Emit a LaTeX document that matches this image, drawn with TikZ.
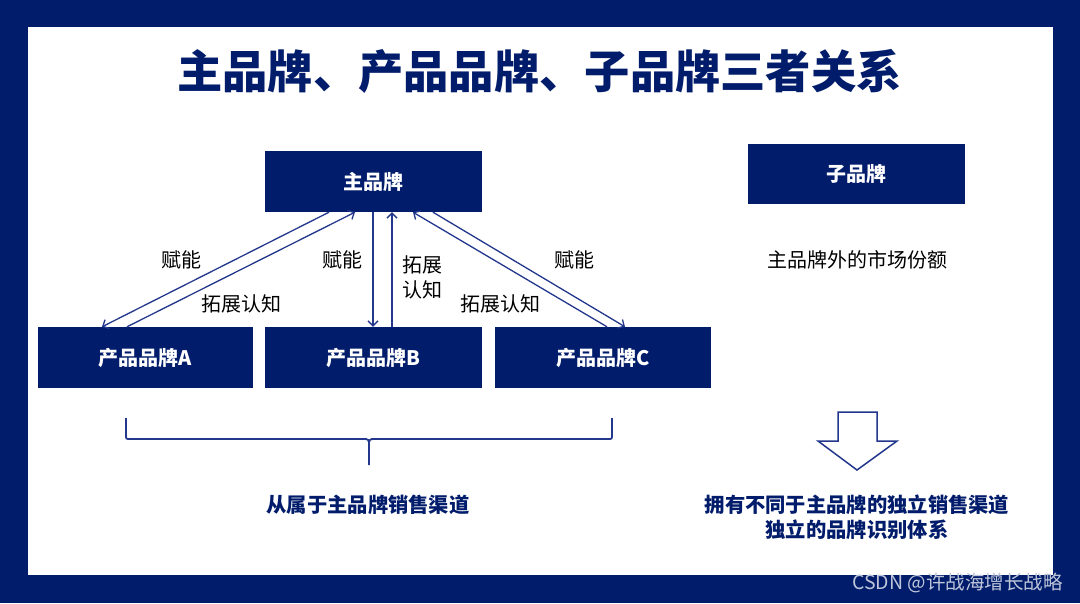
\documentclass[tikz,border=0pt]{standalone}
\usepackage{fontspec}
\newfontfamily\cjk{Noto Sans CJK SC}
\usetikzlibrary{arrows.meta}
\definecolor{navy}{RGB}{0,28,107}
\definecolor{lineblue}{RGB}{35,55,140}
\begin{document}
\begin{tikzpicture}[x=1pt,y=-1pt,
  brandbox/.style={fill=navy,draw=none,minimum width=217pt,minimum height=61pt,text=white,font=\cjk\bfseries\fontsize{20}{24}\selectfont,inner sep=0pt},
  lbl/.style={font=\cjk\fontsize{20}{25}\selectfont,inner sep=0pt,align=center,text=black},
  navytext/.style={font=\cjk\bfseries\fontsize{20.3}{25}\selectfont,inner sep=0pt,align=center,text=navy},
  link/.style={draw=lineblue,line width=1.3pt,-{Straight Barb[length=5pt,width=10pt]}},
  brace/.style={draw=lineblue,line width=1.8pt},
]
\fill[navy] (0,0) rectangle (1080,603);
\fill[white] (28,27) rectangle (1053,575);
\useasboundingbox (0,0) rectangle (1080,603);

\node[font=\cjk\bfseries\fontsize{45.3}{50}\selectfont,text=navy,inner sep=0pt] (title) at (539.5,71) {主品牌、产品品牌、子品牌三者关系};

\node[brandbox] (main) at (373.5,181.5) {主品牌};
\node[brandbox,minimum height=60pt] (sub) at (856.5,174) {子品牌};
\node[brandbox,minimum width=215pt] (A) at (145.5,357.5) {产品品牌A};
\node[brandbox] (B) at (373.5,357.5) {产品品牌B};
\node[brandbox,minimum width=216pt] (C) at (603,357.5) {产品品牌C};

\draw[link] ([xshift=-44.5pt]main.south) -- ([xshift=-43.5pt]A.north);
\draw[link] ([xshift=-18.5pt]A.north) -- ([xshift=-18.5pt]main.south);
\draw[link] ([xshift=-0.5pt]main.south) -- ([xshift=-0.5pt]B.north);
\draw[link] ([xshift=18.5pt]B.north) -- ([xshift=18.5pt]main.south);
\draw[link] ([xshift=4pt]C.north) -- ([xshift=39.5pt]main.south);
\draw[link] ([xshift=59.5pt]main.south) -- ([xshift=22pt]C.north);

\node[lbl] (l1) at (181,260) {赋能};
\node[lbl] (l2) at (241,304) {拓展认知};
\node[lbl] (l3) at (342,260) {赋能};
\node[lbl] (l4) at (422,277) {拓展\\认知};
\node[lbl] (l5) at (500,304) {拓展认知};
\node[lbl] (l6) at (574,260) {赋能};
\node[lbl] (l7) at (857,260) {主品牌外的市场份额};

\draw[brace] (126,418) -- (126,435) .. controls (126,439) .. (130,439) -- (363,439) .. controls (369,439) .. (369,447) -- (369,465);
\draw[brace] (612,418) -- (612,435) .. controls (612,439) .. (608,439) -- (375,439) .. controls (369,439) .. (369,447);

\draw[draw=lineblue,line width=1.5pt,fill=white] (838,412) -- (877,412) -- (877,441) -- (897,441) -- (857,470) -- (818,441) -- (838,441) -- cycle;

\node[navytext] (b1) at (368,505) {从属于主品牌销售渠道};
\node[navytext] (b2) at (857,517) {拥有不同于主品牌的独立销售渠道\\独立的品牌识别体系};

\node[anchor=east,font=\cjk\fontsize{19.5}{21}\selectfont,text=white!75!navy,inner sep=0pt] (wm) at (1063,583) {CSDN @许战海增长战略};
\end{tikzpicture}
\end{document}
